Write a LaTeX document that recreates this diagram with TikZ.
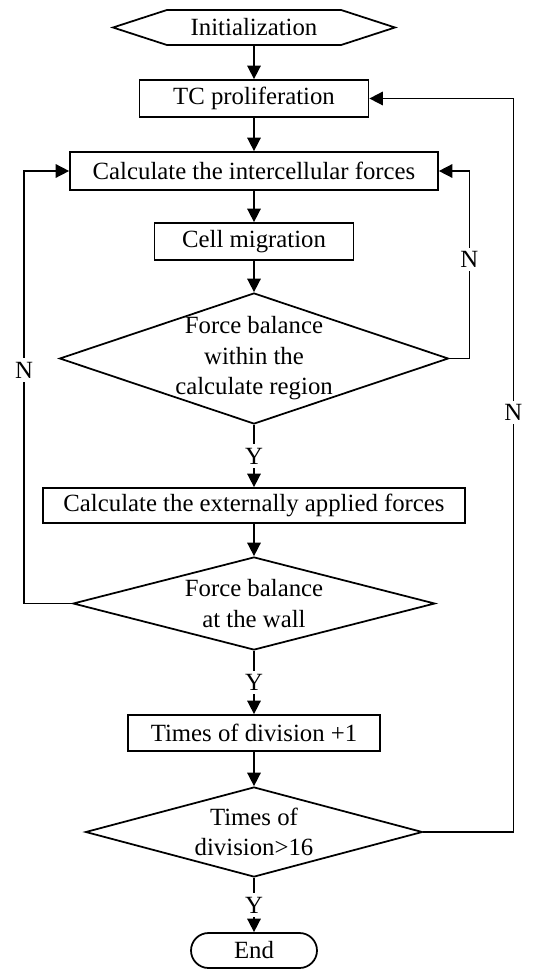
\documentclass[tikz,border=0pt]{standalone}
\usepackage{fontspec}
\setmainfont{Liberation Serif}
\usetikzlibrary{arrows.meta,positioning,shapes.geometric,shapes.symbols}

\begin{document}
\begin{tikzpicture}[x=0.02cm, y=-0.02cm,
    every node/.style={font=\fontsize{14.1}{17.4}\selectfont},
    box/.style={draw, line width=1pt, inner sep=0pt, align=center},
    hexa/.style={box, signal, signal to=west and east, signal pointer angle=36},
    term/.style={box, rounded corners=0.35cm},
    decision/.style={draw, line width=1pt, diamond, inner sep=0pt},
    lbl/.style={fill=white, inner sep=2pt},
    arr/.style={-{Triangle[length=0.27cm, width=0.27cm]}, line width=0.9pt},
]
\useasboundingbox (0,0) rectangle (536,969);

% Main column
\node[hexa, minimum width=5.64cm, minimum height=0.7cm] (init) at (254,27.5) {Initialization};
\node[box, minimum width=4.58cm, minimum height=0.74cm] (tc) at (254,98.5) {TC proliferation};
\node[box, minimum width=7.36cm, minimum height=0.76cm] (inter) at (254,171) {Calculate the intercellular forces};
\node[box, minimum width=3.98cm, minimum height=0.74cm] (mig) at (254,241.5) {Cell migration};
\node[decision, minimum width=7.78cm, minimum height=2.62cm] (bal1) at (254,358.5) {};
\node[align=center] (bal1txt) at (bal1) {Force balance\\within the\\calculate region};
\node[box, minimum width=8.44cm, minimum height=0.70cm] (ext) at (254,505.5) {Calculate the externally applied forces};
\node[decision, minimum width=7.24cm, minimum height=1.86cm] (bal2) at (254,603.5) {};
\node[align=center] (bal2txt) at (bal2) {Force balance\\at the wall};
\node[box, minimum width=5.04cm, minimum height=0.72cm] (times) at (254,733) {Times of division +1};
\node[decision, minimum width=6.74cm, minimum height=1.8cm] (div) at (254,832) {};
\node[align=center] (divtxt) at (div) {Times of\\division>16};
\node[term, minimum width=2.52cm, minimum height=0.7cm] (end) at (254,950.5) {End};

% Forward arrows
\draw[arr] (init) -- (tc);
\draw[arr] (tc) -- (inter);
\draw[arr] (inter) -- (mig);
\draw[arr] (mig) -- (bal1);
\draw[arr] (bal1) -- node[lbl] {Y} (ext);
\draw[arr] (ext) -- (bal2);
\draw[arr] (bal2) -- node[lbl] {Y} (times);
\draw[arr] (times) -- (div);
\draw[arr] (div) -- node[lbl] {Y} (end);

% Feedback loops
\draw[arr] (bal1.east) -- ++(20,0) |- node[lbl, pos=0.265] {N} (inter.east);
\draw[arr] (bal2.west) -- ++(-48,0) |- node[lbl, pos=0.27] {N} (inter.west);
\draw[arr] (div.east) -- ++(90,0) |- node[lbl, pos=0.286] {N} (tc.east);
\end{tikzpicture}
\end{document}
